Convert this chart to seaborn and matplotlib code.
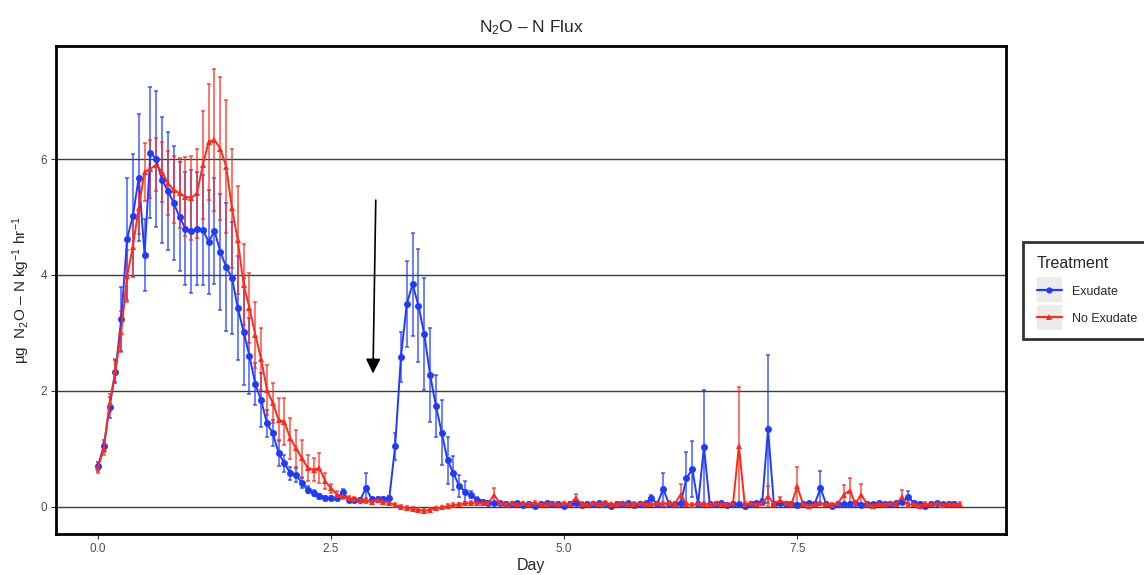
import numpy as np
import pandas as pd
import matplotlib
matplotlib.use("Agg")
import matplotlib.pyplot as plt
import seaborn as sns
from matplotlib.lines import Line2D
from matplotlib.patches import Rectangle
from matplotlib.legend_handler import HandlerPatch, HandlerTuple

# ---------------- data ----------------
day_step = 0.0625  # sampling interval (days)

exudate_mean = [
    0.70, 1.05, 1.72, 2.33, 3.24, 4.62, 5.02, 5.68, 4.35, 6.11,
    6.00, 5.64, 5.45, 5.24, 5.00, 4.80, 4.75, 4.80, 4.78, 4.57,
    4.76, 4.40, 4.14, 3.95, 3.43, 3.02, 2.60, 2.12, 1.84, 1.44,
    1.27, 0.93, 0.75, 0.58, 0.55, 0.41, 0.29, 0.24, 0.18, 0.15,
    0.15, 0.15, 0.25, 0.12, 0.12, 0.12, 0.32, 0.13, 0.13, 0.13,
    0.15, 1.04, 2.59, 3.50, 3.84, 3.47, 2.98, 2.28, 1.74, 1.28,
    0.80, 0.58, 0.36, 0.26, 0.21, 0.12, 0.08, 0.07, 0.06, 0.06,
    0.05, 0.04, 0.06, 0.03, 0.05, 0.02, 0.05, 0.06, 0.04, 0.05,
    0.01, 0.05, 0.06, 0.03, 0.05, 0.04, 0.06, 0.05, 0.02, 0.05,
    0.04, 0.06, 0.03, 0.05, 0.06, 0.15, 0.05, 0.31, 0.05, 0.04,
    0.06, 0.49, 0.65, 0.05, 1.03, 0.05, 0.04, 0.06, 0.03, 0.05,
    0.04, 0.02, 0.05, 0.06, 0.08, 1.34, 0.05, 0.06, 0.04, 0.05,
    0.03, 0.05, 0.06, 0.05, 0.32, 0.04, 0.02, 0.05, 0.04, 0.05,
    0.06, 0.03, 0.05, 0.04, 0.06, 0.05, 0.04, 0.06, 0.08, 0.17,
    0.07, 0.05, 0.02, 0.05, 0.06, 0.04, 0.05, 0.05,
]
exudate_se = [
    0.08, 0.10, 0.18, 0.20, 0.55, 1.05, 1.06, 1.10, 0.62, 1.13,
    1.17, 1.09, 1.02, 0.98, 0.94, 0.98, 1.06, 0.98, 0.95, 0.90,
    0.91, 1.00, 1.10, 0.97, 0.89, 0.92, 0.65, 0.36, 0.46, 0.23,
    0.23, 0.23, 0.15, 0.11, 0.12, 0.08, 0.06, 0.05, 0.04, 0.04,
    0.04, 0.04, 0.06, 0.03, 0.03, 0.03, 0.26, 0.03, 0.03, 0.03,
    0.04, 0.23, 0.43, 0.74, 0.89, 0.97, 0.97, 0.81, 0.54, 0.56,
    0.41, 0.29, 0.19, 0.18, 0.06, 0.05, 0.03, 0.03, 0.03, 0.03,
    0.03, 0.03, 0.03, 0.03, 0.03, 0.03, 0.03, 0.03, 0.03, 0.03,
    0.03, 0.03, 0.03, 0.03, 0.03, 0.03, 0.03, 0.03, 0.03, 0.03,
    0.03, 0.03, 0.03, 0.03, 0.03, 0.05, 0.03, 0.27, 0.03, 0.03,
    0.03, 0.46, 0.49, 0.03, 0.99, 0.03, 0.03, 0.03, 0.03, 0.03,
    0.03, 0.03, 0.03, 0.03, 0.05, 1.28, 0.03, 0.03, 0.03, 0.03,
    0.03, 0.03, 0.03, 0.03, 0.29, 0.03, 0.03, 0.03, 0.03, 0.03,
    0.03, 0.03, 0.03, 0.03, 0.03, 0.03, 0.03, 0.03, 0.03, 0.11,
    0.03, 0.03, 0.03, 0.03, 0.03, 0.03, 0.03, 0.03,
]
noexudate_mean = [
    0.68, 1.00, 1.79, 2.35, 3.02, 3.98, 4.49, 5.16, 5.78, 5.83,
    5.90, 5.78, 5.58, 5.47, 5.41, 5.35, 5.33, 5.41, 5.90, 6.30,
    6.33, 6.18, 5.87, 5.15, 4.60, 3.83, 3.43, 2.97, 2.55, 2.02,
    1.79, 1.50, 1.47, 1.18, 1.01, 0.84, 0.67, 0.64, 0.67, 0.44,
    0.32, 0.21, 0.18, 0.15, 0.13, 0.12, 0.12, 0.09, 0.12, 0.09,
    0.07, 0.03, 0.00, -0.02, -0.04, -0.05, -0.07, -0.05, -0.03, -0.01,
    0.01, 0.03, 0.04, 0.06, 0.07, 0.07, 0.06, 0.07, 0.20, 0.06,
    0.05, 0.06, 0.04, 0.06, 0.05, 0.07, 0.04, 0.05, 0.06, 0.04,
    0.06, 0.05, 0.15, 0.05, 0.04, 0.06, 0.05, 0.07, 0.04, 0.05,
    0.06, 0.04, 0.05, 0.06, 0.05, 0.04, 0.06, 0.05, 0.07, 0.05,
    0.21, 0.05, 0.03, 0.06, 0.05, 0.04, 0.06, 0.05, 0.04, 0.06,
    1.05, 0.05, 0.06, 0.04, 0.06, 0.18, 0.05, 0.11, 0.06, 0.04,
    0.35, 0.05, 0.02, 0.04, 0.06, 0.05, 0.03, 0.06, 0.21, 0.28,
    0.06, 0.21, 0.04, 0.02, 0.05, 0.04, 0.06, 0.05, 0.17, 0.03,
    0.05, 0.02, 0.05, 0.04, 0.06, 0.03, 0.05, 0.04, 0.05,
]
noexudate_se = [
    0.10, 0.10, 0.15, 0.20, 0.35, 0.45, 0.50, 0.45, 0.50, 0.50,
    0.46, 0.52, 0.55, 0.58, 0.60, 0.68, 0.72, 0.77, 0.93, 1.00,
    1.22, 1.24, 1.15, 1.03, 0.93, 0.70, 0.61, 0.57, 0.53, 0.43,
    0.34, 0.37, 0.40, 0.35, 0.32, 0.32, 0.23, 0.20, 0.26, 0.14,
    0.08, 0.06, 0.05, 0.04, 0.03, 0.03, 0.03, 0.03, 0.03, 0.03,
    0.03, 0.03, 0.03, 0.03, 0.03, 0.03, 0.03, 0.03, 0.03, 0.03,
    0.03, 0.03, 0.03, 0.03, 0.03, 0.03, 0.03, 0.03, 0.12, 0.03,
    0.03, 0.03, 0.03, 0.03, 0.03, 0.03, 0.03, 0.03, 0.03, 0.03,
    0.03, 0.03, 0.07, 0.03, 0.03, 0.03, 0.03, 0.03, 0.03, 0.03,
    0.03, 0.03, 0.03, 0.03, 0.03, 0.03, 0.03, 0.03, 0.03, 0.03,
    0.19, 0.03, 0.03, 0.03, 0.03, 0.03, 0.03, 0.03, 0.03, 0.03,
    1.01, 0.03, 0.03, 0.03, 0.03, 0.17, 0.03, 0.05, 0.03, 0.03,
    0.34, 0.03, 0.03, 0.03, 0.03, 0.03, 0.03, 0.03, 0.17, 0.22,
    0.03, 0.18, 0.03, 0.03, 0.03, 0.03, 0.03, 0.03, 0.12, 0.03,
    0.03, 0.03, 0.03, 0.03, 0.03, 0.03, 0.03, 0.03, 0.03,
]
treatments = ["Exudate", "No Exudate"]
colors = {"Exudate": "#1f3bff", "No Exudate": "#ff2a1a"}
x_ticks = [0.0, 2.5, 5.0, 7.5]
y_ticks = [0, 2, 4, 6]

# ---------------- build table ----------------
frames = []
for name, m, s in [("Exudate", exudate_mean, exudate_se),
                   ("No Exudate", noexudate_mean, noexudate_se)]:
    n = len(m)
    frames.append(pd.DataFrame({
        "Day": np.arange(n) * day_step,
        "Flux": m,
        "SE": s,
        "Treatment": name,
    }))
df = pd.concat(frames, ignore_index=True)

# ---------------- style ----------------
sns.set_theme(style="white")
plt.rcParams["font.family"] = ["Liberation Sans", "DejaVu Sans"]
plt.rcParams["mathtext.fontset"] = "custom"
plt.rcParams["mathtext.rm"] = "Liberation Sans"
plt.rcParams["mathtext.it"] = "Liberation Sans:italic"
plt.rcParams["mathtext.bf"] = "Liberation Sans:bold"

fig = plt.figure(figsize=(11.44, 5.75), dpi=100)
ax = fig.add_axes([56 / 1144, 1 - 534 / 575, (1006 - 56) / 1144, (534 - 46) / 575])

ax.set_axisbelow(True)
ax.yaxis.grid(True, color="#3c3c3c", linewidth=1.0)
ax.xaxis.grid(False)

# error bars
for t in treatments:
    sub = df[df["Treatment"] == t]
    ax.errorbar(sub["Day"], sub["Flux"], yerr=sub["SE"], fmt="none",
                ecolor=colors[t], alpha=0.7, elinewidth=1.3,
                capsize=1.6, capthick=1.3, zorder=2)

# lines + points
sns.lineplot(data=df, x="Day", y="Flux", hue="Treatment", style="Treatment",
             hue_order=treatments, style_order=treatments,
             palette=colors, markers={"Exudate": "o", "No Exudate": "^"},
             dashes=False, estimator=None, markersize=5, linewidth=1.4,
             markeredgewidth=0, legend=False, ax=ax, zorder=3)

# annotation arrow
ax.annotate("", xy=(2.95, 2.30), xytext=(2.98, 5.29),
            arrowprops=dict(arrowstyle="-|>", color="black", lw=1.2,
                            mutation_scale=22, shrinkA=0, shrinkB=0))

ax.set_xlim(-0.45, 9.74)
ax.set_ylim(-0.47, 7.95)
ax.set_xticks(x_ticks)
ax.set_xticklabels([f"{v:.1f}" for v in x_ticks])
ax.set_yticks(y_ticks)
ax.set_yticklabels([str(v) for v in y_ticks])
ax.tick_params(axis="both", which="major", bottom=True, left=True,
               length=3.5, width=0.8, color="#333333",
               labelcolor="#4d4d4d", labelsize=8.5, pad=3)

for sp in ax.spines.values():
    sp.set_visible(True)
    sp.set_color("black")
    sp.set_linewidth(2.0)

ax.set_title("N$_2$O – N Flux", fontsize=12.5, pad=10)
ax.set_xlabel("Day", fontsize=11.5, labelpad=2)
ax.set_ylabel("µg  N$_2$O – N kg$^{-1}$ hr$^{-1}$", fontsize=11, labelpad=6)


# legend: square grey key background centred on the key line
def key_bg(legend, orig_handle, xdescent, ydescent, width, height, fontsize):
    side = width
    yc = (height - ydescent) / 2
    return Rectangle((-xdescent, yc - side / 2), side, side)


handles = []
for t, mk in zip(treatments, ["o", "^"]):
    bg = Rectangle((0, 0), 1, 1, facecolor="#ebebeb", edgecolor="none")
    ln = Line2D([], [], color=colors[t], marker=mk, markersize=4.5,
                markeredgewidth=0, linewidth=1.6)
    handles.append((bg, ln))
leg = fig.legend(handles, treatments, title="Treatment", loc="upper left",
                 bbox_to_anchor=(1023 / 1144, 1 - 242 / 575),
                 borderaxespad=0.0,
                 frameon=True, fancybox=False, edgecolor="black",
                 fontsize=9, title_fontsize=11.5, handlelength=2.0,
                 handleheight=1.2, labelspacing=1.1, handletextpad=0.8,
                 borderpad=1.1, alignment="left",
                 handler_map={tuple: HandlerTuple(ndivide=1, pad=0),
                              Rectangle: HandlerPatch(patch_func=key_bg)})
leg.get_frame().set_linewidth(2.0)

fig.savefig("out.png", dpi=100)
